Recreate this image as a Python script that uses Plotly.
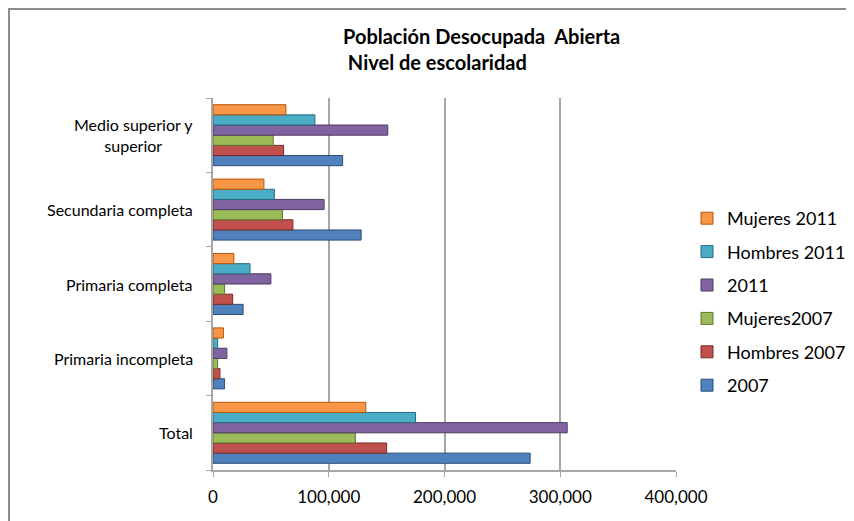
import plotly.graph_objects as go

categories = ["Total", "Primaria incompleta", "Primaria completa", "Secundaria completa", "Medio superior y superior"]
cat_labels = ["Total", "Primaria incompleta", "Primaria completa", "Secundaria completa", "Medio superior y<br>superior"]

series_names = ["2007", "Hombres 2007", "Mujeres2007", "2011", "Hombres 2011", "Mujeres 2011"]
v_2007 = [274000, 10000, 26000, 128000, 112000]
v_hombres_2007 = [150000, 6000, 17000, 69000, 61000]
v_mujeres_2007 = [123000, 4000, 10000, 60000, 52000]
v_2011 = [306000, 12000, 50000, 96000, 151000]
v_hombres_2011 = [175000, 4000, 32000, 53000, 88000]
v_mujeres_2011 = [132000, 9000, 18000, 44000, 63000]
series_values = [v_2007, v_hombres_2007, v_mujeres_2007, v_2011, v_hombres_2011, v_mujeres_2011]

colors = ["#4F81BD", "#C0504D", "#9BBB59", "#8064A2", "#4BACC6", "#F79646"]
edges = ["#2C4D75", "#772C2A", "#5F7530", "#4D3B62", "#276A7C", "#B65708"]

x_ticks = [0, 100000, 200000, 300000, 400000]

FONT = "Lato"

fig = go.Figure()
n = len(series_names)
for i, (name, vals, c, e) in enumerate(zip(series_names, series_values, colors, edges)):
    fig.add_trace(go.Bar(
        y=categories, x=vals, name=name, orientation="h",
        marker=dict(color=c, line=dict(color=e, width=1)),
        legendgroup=name, legendrank=n - i,
    ))

# page offset (body margin) of the rendered html
OFF = 8
W, H = 854, 521
# target plot-area edges in screenshot pixels
PL, PR, PT, PB = 213, 676, 98, 470
L = PL - OFF
T = PT - OFF
R = W - (PR - OFF)
B = H - (PB - OFF)
pw, ph = W - L - R, H - T - B

def px_x(px):
    return (px - OFF - L) / pw

def px_y(py):
    return (H - B - (py - OFF)) / ph

annotations = [
    dict(text="<b>Población Desocupada  Abierta<br> Nivel de escolaridad</b>",
         xref="paper", yref="paper", x=px_x(341), y=px_y(22),
         xanchor="left", yanchor="top", align="left", showarrow=False,
         font=dict(family=FONT, size=20, color="#000000")),
]
for cat, lab in zip(categories, cat_labels):
    annotations.append(dict(text=lab, xref="paper", yref="y", x=px_x(195), y=cat,
                            xanchor="right", yanchor="middle", align="center", showarrow=False,
                            font=dict(family=FONT, size=16, color="#000000")))

fig.update_layout(
    width=W, height=H,
    margin=dict(l=L, r=R, t=T, b=B, autoexpand=False),
    paper_bgcolor="white", plot_bgcolor="white",
    barmode="group", bargap=0.18, bargroupgap=0.0,
    font=dict(family=FONT, size=16, color="#000000"),
    showlegend=True,
    legend=dict(x=px_x(687), y=px_y(200), xanchor="left", yanchor="top",
                traceorder="grouped", tracegroupgap=7,
                font=dict(family=FONT, size=18), itemwidth=30,
                bgcolor="rgba(0,0,0,0)"),
    xaxis=dict(range=[0, 400000], tickvals=x_ticks, tickformat=",",
               showgrid=True, gridcolor="#A6A6A6", gridwidth=2,
               showline=True, linecolor="#A6A6A6", linewidth=2,
               ticks="outside", ticklen=5, tickcolor="#A6A6A6",
               ticklabelstandoff=6,
               tickfont=dict(family=FONT, size=17), zeroline=False, fixedrange=True,
               automargin=False),
    yaxis=dict(categoryorder="array", categoryarray=categories,
               showticklabels=False, showgrid=False,
               showline=True, linecolor="#A6A6A6", linewidth=2,
               ticks="outside", ticklen=5, tickcolor="#A6A6A6", tickson="boundaries",
               zeroline=False, fixedrange=True, automargin=False),
    annotations=annotations,
    shapes=[dict(type="rect", xref="paper", yref="paper",
                 x0=px_x(9), y0=px_y(560), x1=px_x(900), y1=px_y(9),
                 line=dict(color="#8C8C8C", width=2), fillcolor="rgba(0,0,0,0)", layer="below")],
)

fig.write_html("out.html")
